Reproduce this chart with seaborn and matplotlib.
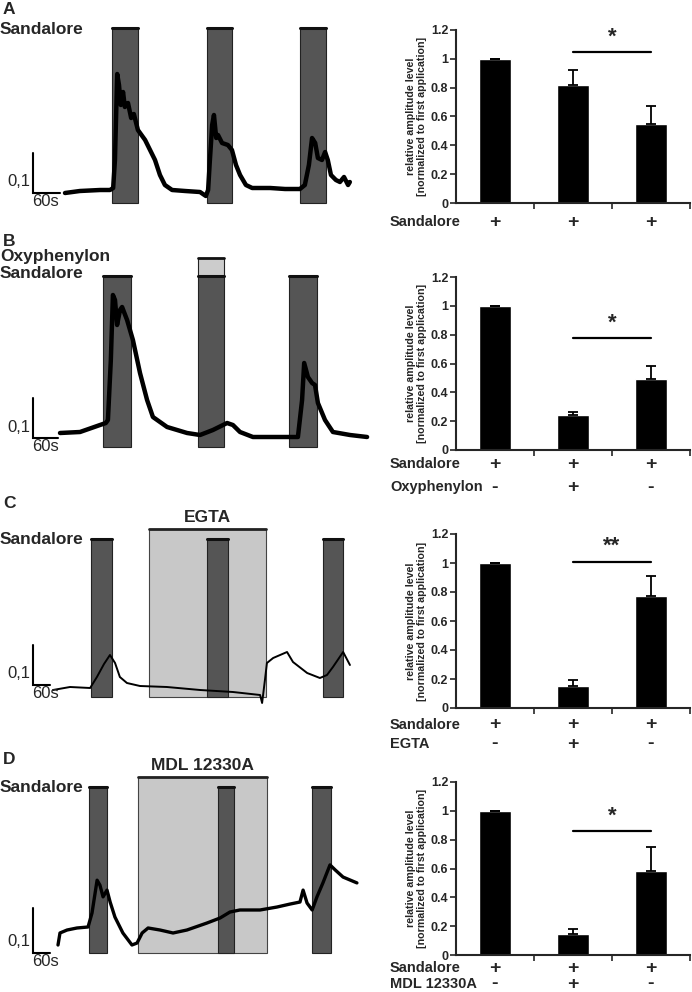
import numpy as np
import pandas as pd
import seaborn as sns
import matplotlib.pyplot as plt
from matplotlib.patches import Rectangle
from matplotlib.transforms import blended_transform_factory

sns.set_style("ticks")
plt.rcParams['font.family'] = ['Liberation Sans', 'DejaVu Sans']

W, H = 692, 992

# ---- traces (time in s, amplitude in relative units) ----
A_t = [0, 33, 78, 100, 107, 111, 116, 120, 124, 129, 133, 140, 147, 153, 162, 178, 189, 200,
       211, 222, 238, 267, 300, 313, 318, 322, 327, 331, 336, 340, 349, 362, 371, 380, 389, 402,
       416, 456, 489, 522, 533, 542, 549, 556, 562, 571, 578, 584, 591, 602, 611, 620, 629, 633]
A_a = [0, 0.005, 0.0075, 0.0075, 0.0125, 0.0825, 0.2975, 0.27, 0.22, 0.2525, 0.215, 0.225,
       0.1875, 0.1975, 0.1575, 0.1325, 0.1075, 0.0825, 0.045, 0.02, 0.0075, 0.005, 0.0025,
       -0.0075, 0.0075, 0.0825, 0.17, 0.195, 0.1375, 0.145, 0.125, 0.12, 0.1075, 0.07, 0.045,
       0.02, 0.0125, 0.0125, 0.01, 0.01, 0.02, 0.07, 0.1375, 0.125, 0.0875, 0.0825, 0.1025,
       0.0825, 0.045, 0.0325, 0.0275, 0.04, 0.02, 0.0275]
A_on, A_off = [104, 316, 522], [162, 371, 580]

B_t = [0, 48, 96, 110, 115, 122, 127, 132, 137, 144, 149, 161, 175, 192, 209, 223, 257, 305,
       336, 367, 401, 415, 432, 463, 528, 571, 581, 586, 595, 605, 612, 619, 636, 655, 696, 737]
B_a = [0, 0.0025, 0.02, 0.025, 0.0325, 0.1825, 0.345, 0.3325, 0.27, 0.3075, 0.315, 0.2825,
       0.2325, 0.15, 0.0825, 0.04, 0.015, 0, -0.005, 0.0075, 0.025, 0.02, 0.0025, -0.01, -0.01,
       -0.01, 0.0825, 0.175, 0.14, 0.125, 0.12, 0.075, 0.0325, 0.0025, -0.005, -0.01]
B_on, B_off = [103, 331, 550], [170, 394, 617]

C_t = [0, 60, 131, 155, 180, 201, 219, 236, 261, 307, 402, 519, 635, 731, 738, 748, 755, 777,
       826, 847, 897, 942, 967, 988, 1024, 1048]
C_a = [-0.005, 0.0025, 0, 0.0275, 0.06, 0.0825, 0.0625, 0.0275, 0.0125, 0.005, 0.0025, -0.005,
       -0.01, -0.0175, -0.0375, 0.02, 0.0625, 0.075, 0.09, 0.065, 0.0375, 0.025, 0.0325, 0.0525,
       0.09, 0.0575]
C_on, C_off = [134, 544, 953], [208, 618, 1024]
C_drug = [339, 752]

D_t = [0, 7, 32, 67, 106, 120, 138, 148, 159, 173, 184, 201, 229, 261, 279, 297, 318, 360, 406,
       455, 526, 572, 607, 642, 713, 773, 819, 854, 865, 879, 897, 914, 935, 960, 978, 1006, 1055]
D_a = [0, 0.0267, 0.0333, 0.0378, 0.04, 0.071, 0.144, 0.133, 0.107, 0.122, 0.0955, 0.062,
       0.0267, 0, 0.0044, 0.0267, 0.0378, 0.0333, 0.0267, 0.0333, 0.0489, 0.06, 0.0733, 0.0778,
       0.0778, 0.0844, 0.091, 0.0955, 0.122, 0.0933, 0.0778, 0.107, 0.138, 0.178, 0.167, 0.151,
       0.138]
D_on, D_off = [109, 565, 897], [173, 621, 964]
D_drug = [282, 738]

# ---- bar charts ----
A_mean, A_err = [1.0, 0.82, 0.55], [0, 0.105, 0.12]
B_mean, B_err = [1.0, 0.24, 0.49], [0, 0.025, 0.09]
C_mean, C_err = [1.0, 0.15, 0.77], [0, 0.045, 0.14]
D_mean, D_err = [1.0, 0.145, 0.58], [0, 0.035, 0.17]
sig_level = [1.05, 0.78, 1.01, 0.86]
sig_text = ['*', '*', '**', '*']
plus3 = ['+', '+', '+']
treat = ['-', '+', '-']
ytick_labels = ['0', '0.2', '0.4', '0.6', '0.8', '1', '1.2']

fig = plt.figure(figsize=(W / 100, H / 100), dpi=100)


def px_axes(left, top, right, bottom):
    return fig.add_axes([left / W, 1 - bottom / H, (right - left) / W, (bottom - top) / H])


def ftext(x, y, s, **kw):
    fig.text(x / W, 1 - y / H, s, **kw)


def trace_panel(lay, t, a, on, off, drug=None, drug_label=None, cap_top=None):
    ax = px_axes(0, lay['top'], 370, lay['bottom'])
    sx, sy = lay['sx'], lay['sy']

    def ay(py):
        return (lay['y0'] - py) * sy

    lo, hi = ay(lay['stim_bot']), ay(lay['stim_top'])
    if drug is not None:
        dtop = ay(lay['drug_top'])
        ax.add_patch(Rectangle((drug[0], lo), drug[1] - drug[0], dtop - lo, fc='#c8c8c8',
                               ec='#444444', lw=0.8, zorder=1))
        ax.plot(drug, [dtop, dtop], color='#222222', lw=2, zorder=1.5)
        ftext(lay['x0'] + (drug[0] + drug[1]) / 2 / sx, lay['drug_top'] - 11, drug_label,
              ha='center', va='center', fontsize=12.5, fontweight='bold')
    for s0, s1 in zip(on, off):
        ax.add_patch(Rectangle((s0, lo), s1 - s0, hi - lo, fc='#555555', ec='#222222',
                               lw=0.8, zorder=2))
        ax.plot([s0, s1], [hi, hi], color='#111111', lw=2.2, zorder=2.5)
    if cap_top is not None:
        ctop = ay(cap_top)
        s0, s1 = on[1], off[1]
        ax.add_patch(Rectangle((s0, hi), s1 - s0, ctop - hi, fc='#cccccc', ec='#222222',
                               lw=0.8, zorder=2))
        ax.plot([s0, s1], [ctop, ctop], color='#111111', lw=2, zorder=2.5)
    sns.lineplot(x=t, y=a, ax=ax, color='black', lw=lay['lw'], estimator=None, zorder=3)
    # scale bar: 0.1 amplitude, 60 s
    tc, ac = (33 - lay['x0']) * sx, ay(lay['sb_y'])
    ax.plot([tc, tc, tc + 60], [ac + 0.1, ac, ac], color='black', lw=1.5,
            solid_joinstyle='miter', clip_on=False)
    ftext(30, lay['sb_y'] - 11, '0,1', ha='right', va='center', fontsize=12)
    ftext(32, lay['sb_y'] + 1, '60s', ha='left', va='top', fontsize=12)
    ax.set_xlim(-lay['x0'] * sx, (370 - lay['x0']) * sx)
    ax.set_ylim((lay['y0'] - lay['bottom']) * sy, (lay['y0'] - lay['top']) * sy)
    ax.axis('off')


def bar_panel(top, bottom, means, errs, sig_y, sig_txt, rows):
    ax = px_axes(456, top, 690, bottom)
    df = pd.DataFrame({'cond': ['c1', 'c2', 'c3'], 'level': means})
    sns.barplot(data=df, x='cond', y='level', color='black', saturation=1, width=0.4,
                errorbar=None, ax=ax)
    ax.errorbar(range(3), means, yerr=[np.zeros(3), errs], fmt='none', ecolor='black',
                elinewidth=1.3, capsize=3.5, capthick=1.3)
    ax.set_xlim(-0.5, 2.5)
    ax.set_ylim(0, 1.2)
    ax.set_yticks(np.arange(0, 1.21, 0.2))
    ax.set_yticklabels(ytick_labels, fontsize=9, fontweight='bold')
    ax.set_xticks([0.5, 1.5, 2.5])
    ax.set_xticklabels([])
    ax.set_xlabel('')
    ax.set_ylabel('')
    sns.despine(ax=ax)
    for sp in ['left', 'bottom']:
        ax.spines[sp].set_linewidth(1.5)
    ax.tick_params(direction='out', length=4, width=1.2, pad=1.5)
    ax.text(-0.17, 0.5, 'relative amplitude level\n[normalized to first application]',
            transform=ax.transAxes, rotation=90, ha='center', va='center',
            fontsize=7.7, fontweight='bold', linespacing=1.15)
    ax.plot([1, 2], [sig_y, sig_y], color='black', lw=1.6)
    ax.text(1.5, sig_y + 0.03, sig_txt, ha='center', va='bottom', fontsize=16,
            fontweight='bold')
    tr = blended_transform_factory(ax.transData, fig.transFigure)
    for label, signs, ypx in rows:
        ftext(390, ypx, label, ha='left', va='center', fontsize=10.5, fontweight='bold')
        for i, s in enumerate(signs):
            ax.text(i, 1 - ypx / H, s, transform=tr, ha='center', va='center',
                    fontsize=14, fontweight='bold')


lay_A = dict(x0=65, sx=60 / 27, y0=193, sy=0.0025, top=15, bottom=210,
             stim_top=28, stim_bot=203, sb_y=193, lw=3.2)
lay_B = dict(x0=60, sx=2.4, y0=433, sy=0.0025, top=245, bottom=455,
             stim_top=276, stim_bot=447, sb_y=438, lw=3.2)
lay_C = dict(x0=53, sx=60 / 17, y0=688, sy=0.0025, top=505, bottom=705,
             stim_top=539, stim_bot=697, drug_top=529, sb_y=685, lw=1.4)
lay_D = dict(x0=58, sx=60 / 17, y0=945, sy=1 / 450, top=760, bottom=960,
             stim_top=787, stim_bot=953, drug_top=777, sb_y=953, lw=2.4)

trace_panel(lay_A, A_t, A_a, A_on, A_off)
trace_panel(lay_B, B_t, B_a, B_on, B_off, cap_top=258)
trace_panel(lay_C, C_t, C_a, C_on, C_off, drug=C_drug, drug_label='EGTA')
trace_panel(lay_D, D_t, D_a, D_on, D_off, drug=D_drug, drug_label='MDL 12330A')

bold12 = dict(fontsize=12.5, fontweight='bold', ha='left', va='center')
ftext(3, 10, 'A', **bold12)
ftext(0, 29, 'Sandalore', **bold12)
ftext(3, 241, 'B', **bold12)
ftext(0, 257, 'Oxyphenylon', **bold12)
ftext(0, 274, 'Sandalore', **bold12)
ftext(3, 503, 'C', **bold12)
ftext(0, 539, 'Sandalore', **bold12)
ftext(3, 760, 'D', **bold12)
ftext(0, 788, 'Sandalore', **bold12)

bar_panel(30, 203, A_mean, A_err, sig_level[0], sig_text[0],
          [('Sandalore', plus3, 222)])
bar_panel(277, 450, B_mean, B_err, sig_level[1], sig_text[1],
          [('Sandalore', plus3, 464), ('Oxyphenylon', treat, 487)])
bar_panel(534, 708, C_mean, C_err, sig_level[2], sig_text[2],
          [('Sandalore', plus3, 725), ('EGTA', treat, 744)])
bar_panel(782, 955, D_mean, D_err, sig_level[3], sig_text[3],
          [('Sandalore', plus3, 968), ('MDL 12330A', treat, 984)])

fig.savefig('out.png', dpi=100)
